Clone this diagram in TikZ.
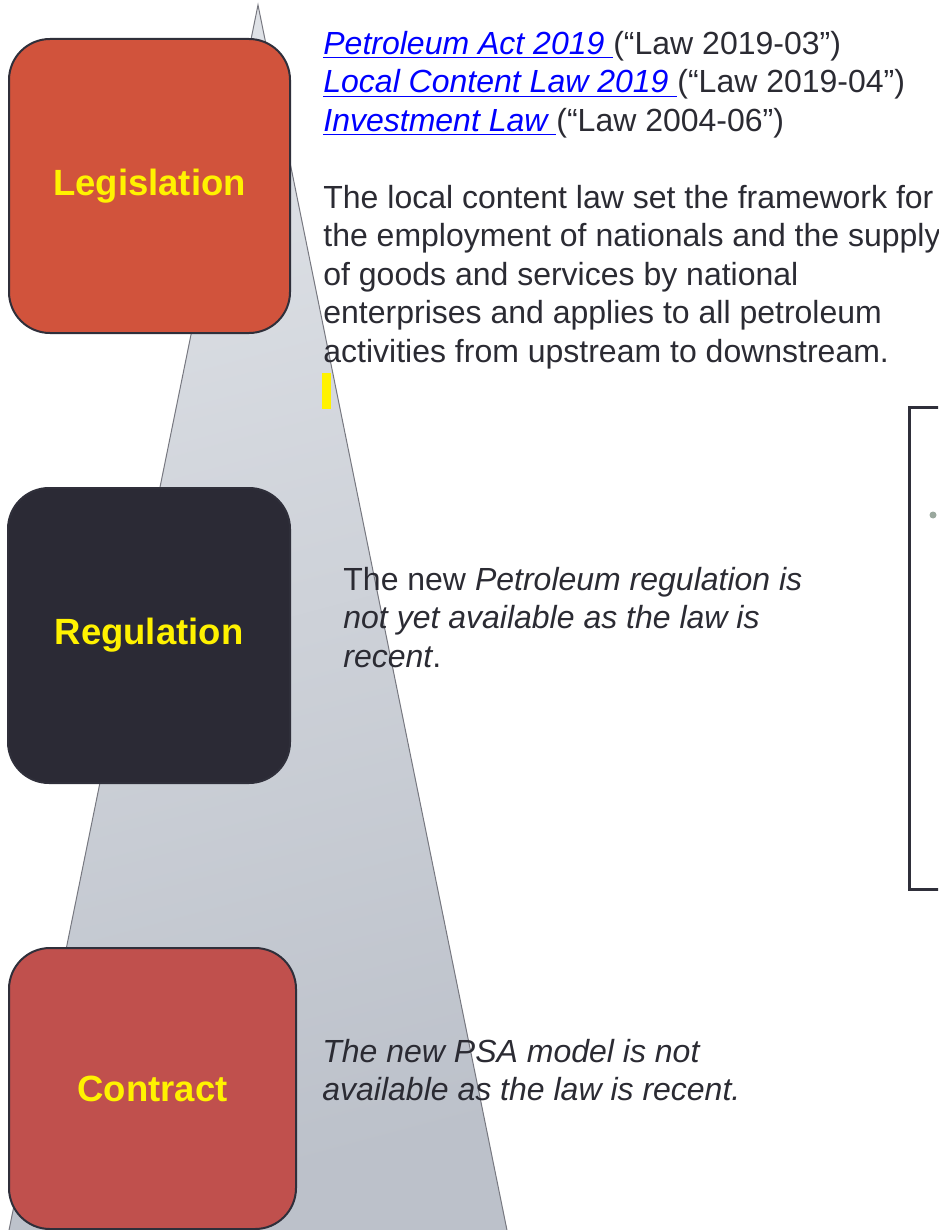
\documentclass[tikz,border=0pt]{standalone}
\usepackage{fontspec}
\setmainfont{Liberation Sans}
\usepackage{tikz}

\definecolor{legisred}{HTML}{D1533C}
\definecolor{regdark}{HTML}{2B2A35}
\definecolor{contred}{HTML}{C0504D}
\definecolor{edgedark}{HTML}{2F2F3A}
\definecolor{textdark}{HTML}{2B2B33}
\definecolor{linkblue}{HTML}{0000FF}
\definecolor{tritop}{HTML}{DFE2E7}
\definecolor{tribot}{HTML}{BCC1CA}
\definecolor{triedge}{HTML}{777880}
\definecolor{dotgray}{HTML}{9AA89E}

\newcommand{\lawlink}[1]{{\color{linkblue}\underline{\itshape #1\ }}}

\begin{document}
\begin{tikzpicture}[x=0.5pt,y=-0.5pt,
    stagebox/.style={draw=edgedark, line width=1pt, rounded corners=20.5pt,
      text=yellow, inner sep=0pt, font={\fontsize{18.25}{22}\selectfont\bfseries}},
    note/.style={anchor=north west, inner sep=0pt, align=left, text=textdark,
      font={\fontsize{16}{19.25}\selectfont}}]
        % ---- page frame -----------------------------------
        \clip (0,0) rectangle (938,1230);

        % ---- background wedge -----------------------------
        \shade[top color=tritop, bottom color=tribot, shading angle=15] (258,5) -- (510,1245) -- (6,1245) -- cycle;
        \draw[triedge, line width=0.5pt] (6,1245) -- (258,5) -- (510,1245);

        % ---- the three stages -----------------------------
        \node[stagebox, fill=legisred, minimum width=140.5pt, minimum height=147pt] (legis) at (149.5,186) {Legislation};
        \node[stagebox, fill=regdark, minimum width=141pt, minimum height=147.5pt] (regul) at (149,635.5) {Regulation};
        \node[stagebox, fill=contred, minimum width=143.5pt, minimum height=140.5pt] (contr) at (152.5,1088.5) {Contract};

        % ---- notes beside each stage ----------------------
        \node[note] (lawnote) at (323,27) {\strut\lawlink{Petroleum Act 2019}(“Law 2019-03”)\\
          \strut\lawlink{Local Content Law 2019}(“Law 2019-04”)\\
          \strut\lawlink{Investment Law}(“Law 2004-06”)\\
          \strut\\
          \strut The local content law set the framework for\\
          \strut the employment of nationals and the supply\\
          \strut of goods and services by national\\
          \strut enterprises and applies to all petroleum\\
          \strut activities from upstream to downstream.};
        \node[note] (regnote) at (343,563) {\strut The new \textit{Petroleum regulation is}\\
          \strut\textit{not yet available as the law is}\\
          \strut\textit{recent}.};
        \node[note, font={\fontsize{16}{19.25}\selectfont\itshape}] (psanote) at (322,1035) {\strut The new PSA model is not\\
          \strut available as the law is recent.};

        % ---- cursor mark and side panel -------------------
        \fill[yellow] (322,373) rectangle (331,409);
        \draw[edgedark, line width=1.5pt] (960,407) -- (909,407) -- (909,889) -- (960,889);
        \fill[dotgray] (933,515) circle (3.5);
\end{tikzpicture}
\end{document}
